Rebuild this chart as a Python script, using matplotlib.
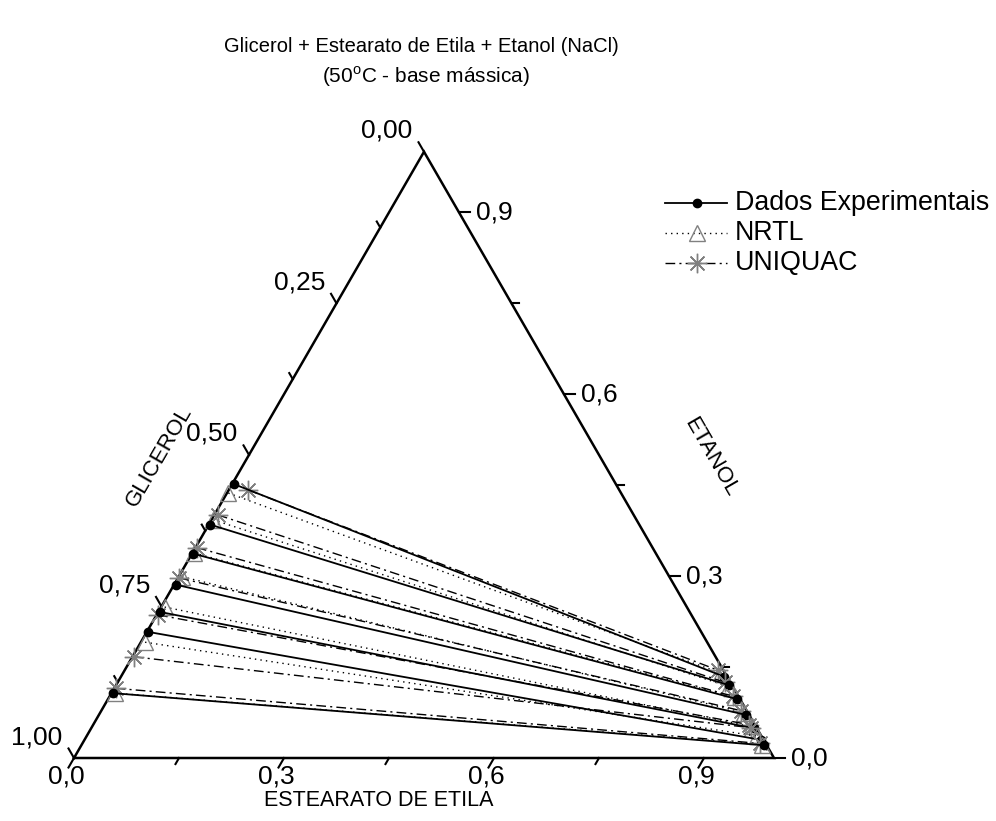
import numpy as np
import matplotlib
matplotlib.use("Agg")
import matplotlib.pyplot as plt
from matplotlib.lines import Line2D

plt.rcParams['font.family'] = ['Liberation Sans', 'DejaVu Sans']
plt.rcParams['mathtext.fontset'] = 'custom'
plt.rcParams['mathtext.rm'] = 'Liberation Sans'

# ---------------- data (mass fractions) ----------------
# experimental tie lines: glycerol-rich phase (left) and ester-rich phase (right)
exp_left_ester = [0.002, 0.002, 0.002, 0.002, 0.002, 0.002, 0.002]
exp_left_ethanol = [0.452, 0.385, 0.337, 0.286, 0.241, 0.208, 0.107]
exp_right_ester = [0.862, 0.876, 0.899, 0.925, 0.947, 0.966, 0.975]
exp_right_ethanol = [0.134, 0.120, 0.097, 0.071, 0.049, 0.030, 0.021]

# NRTL calculated tie lines
nrtl_left_ester = [0.002, 0.002, 0.003, 0.005, 0.005, 0.006, 0.005]
nrtl_left_ethanol = [0.437, 0.393, 0.338, 0.299, 0.249, 0.191, 0.107]
nrtl_right_ester = [0.854, 0.876, 0.894, 0.919, 0.942, 0.958, 0.972]
nrtl_right_ethanol = [0.140, 0.118, 0.100, 0.075, 0.052, 0.036, 0.022]

# UNIQUAC calculated tie lines
uniq_left_ester = [0.028, 0.005, 0.002, 0.002, 0.002, 0.002, 0.002]
uniq_left_ethanol = [0.442, 0.401, 0.347, 0.297, 0.236, 0.167, 0.115]
uniq_right_ester = [0.847, 0.867, 0.890, 0.914, 0.937, 0.942, 0.968]
uniq_right_ethanol = [0.145, 0.125, 0.102, 0.078, 0.055, 0.050, 0.024]

bottom_ticks = [0.0, 0.15, 0.3, 0.45, 0.6, 0.75, 0.9]
bottom_labels = ['0,0', '', '0,3', '', '0,6', '', '0,9']
right_ticks = [0.0, 0.15, 0.3, 0.45, 0.6, 0.75, 0.9]
right_labels = ['0,0', '', '0,3', '', '0,6', '', '0,9']
left_ticks = [0.0, 0.125, 0.25, 0.375, 0.5, 0.625, 0.75, 0.875, 1.0]
left_labels = ['0,00', '', '0,25', '', '0,50', '', '0,75', '', '1,00']

title1 = 'Glicerol + Estearato de Etila + Etanol (NaCl)'
title2 = '(50$^{\\mathrm{o}}$C - base mássica)'
legend_names = ['Dados Experimentais', 'NRTL', 'UNIQUAC']

# ---------------- figure ----------------
W, H = 996, 821
fig = plt.figure(figsize=(W / 100, H / 100), dpi=100)
X0, Y0, S = 74, 758, 700
h = np.sqrt(3) / 2
ax = fig.add_axes([X0 / W, (H - Y0) / H, S / W, S * h / H])
ax.set_xlim(0, 1)
ax.set_ylim(0, h)
ax.axis('off')
px = 1.0 / S  # data units per pixel


def tern(e, t):
    e = np.asarray(e, float)
    t = np.asarray(t, float)
    return e + t / 2.0, t * h


# triangle
ax.plot([0, 1, 0.5, 0], [0, 0, h, 0], color='k', lw=1.8, clip_on=False,
        solid_joinstyle='miter')

TS = 19
# ticks
for v, lab in zip(bottom_ticks, bottom_labels):
    L = (11 if lab else 7) * px
    x, y = tern(v, 0)
    ax.plot([x, x - 0.5 * L], [y, y - h * L], color='k', lw=1.5, clip_on=False)
    if lab:
        ax.text(x - 8 * px, y - 18 * px, lab, ha='center', va='center', fontsize=TS)
for v, lab in zip(right_ticks, right_labels):
    L = (11 if lab else 7) * px
    x, y = tern(1 - v, v)
    ax.plot([x, x + L], [y, y], color='k', lw=1.5, clip_on=False)
    if lab:
        ax.text(x + 17 * px, y, lab, ha='left', va='center', fontsize=TS)
for v, lab in zip(left_ticks, left_labels):
    L = (11 if lab else 7) * px
    x, y = tern(0, 1 - v)
    ax.plot([x, x - 0.5 * L], [y, y + h * L], color='k', lw=1.5, clip_on=False)
    if lab:
        ax.text(x - 37 * px, y + 21 * px, lab, ha='center', va='center', fontsize=TS)

# axis titles
ax.text(0.5 - 45 * px, -42 * px, 'ESTEARATO DE ETILA', ha='center', va='center',
        fontsize=15.5)
gx, gy = tern(0, 0.5)
ax.text(gx - 90 * px, gy - 2 * px, 'GLICEROL', ha='center', va='center',
        fontsize=16, rotation=60, rotation_mode='anchor')
ex, ey = tern(0.5, 0.5)
ax.text(ex + 112 * px, ey - 2 * px, 'ETANOL', ha='center', va='center',
        fontsize=16, rotation=-60, rotation_mode='anchor')

# tie lines
grey = '#808080'
for i in range(len(exp_left_ethanol)):
    x, y = tern([nrtl_left_ester[i], nrtl_right_ester[i]],
                [nrtl_left_ethanol[i], nrtl_right_ethanol[i]])
    ax.plot(x, y, color='k', lw=1.0, ls=(0, (1, 3)), clip_on=False)
    ax.plot(x, y, ls='none', marker='^', ms=11, mfc='none', mec=grey, mew=1.0,
            clip_on=False)
    x, y = tern([uniq_left_ester[i], uniq_right_ester[i]],
                [uniq_left_ethanol[i], uniq_right_ethanol[i]])
    ax.plot(x, y, color='k', lw=1.0, ls=(0, (7, 3, 1.5, 3)), clip_on=False)
    ax.plot(x, y, ls='none', marker=(8, 2, 0), ms=14, mec=grey, mew=1.0,
            clip_on=False)
    x, y = tern([exp_left_ester[i], exp_right_ester[i]],
                [exp_left_ethanol[i], exp_right_ethanol[i]])
    ax.plot(x, y, color='k', lw=1.3, marker='o', ms=6, mfc='k', mec='k',
            clip_on=False)

# titles
fig.text(421 / W, 1 - 47 / H, title1, ha='center', va='center', fontsize=14.5)
fig.text(426 / W, 1 - 77 / H, title2, ha='center', va='center', fontsize=15)

# legend (manual)
leg_y = [203, 233, 263]
styles = [dict(color='k', lw=1.3, ls='-'),
          dict(color='k', lw=1.0, ls=(0, (1, 3))),
          dict(color='k', lw=1.0, ls=(0, (7, 3, 1.5, 3)))]
marks = [dict(marker='o', ms=6, mfc='k', mec='k'),
         dict(marker='^', ms=11, mfc='none', mec=grey, mew=1.0),
         dict(marker=(8, 2, 0), ms=14, mec=grey, mew=1.0)]
for yy, st, mk, name in zip(leg_y, styles, marks, legend_names):
    fy = 1 - yy / H
    fig.add_artist(Line2D([665 / W, 727 / W], [fy, fy], transform=fig.transFigure, **st))
    fig.add_artist(Line2D([697 / W], [fy], transform=fig.transFigure, ls='none', **mk))
    fig.text(735 / W, fy, name, ha='left', va='center', fontsize=19.3)

fig.savefig('out.png', dpi=100)
